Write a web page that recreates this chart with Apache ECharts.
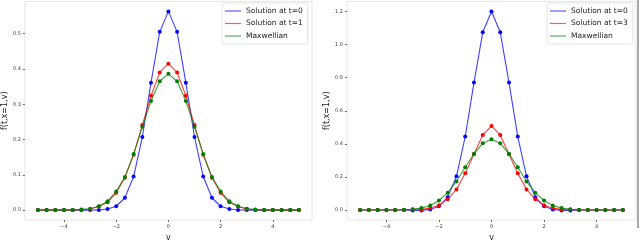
<!DOCTYPE html>
<html><head><meta charset="utf-8">
<script src="https://cdn.jsdelivr.net/npm/echarts@6/dist/echarts.min.js"></script>
<style>html,body{margin:0;padding:0;background:#fff}#c{width:640px;height:247px}</style>
</head><body><div id="c"></div>
<script>
const v = [-5,-4.667,-4.333,-4,-3.667,-3.333,-3,-2.667,-2.333,-2,-1.667,-1.333,-1,-0.667,-0.333,0,0.333,0.667,1,1.333,1.667,2,2.333,2.667,3,3.333,3.667,4,4.333,4.667,5];
// left panel (t=1)
const leftT0 = [0,0,0,0,0,0,0,0.0005,0.003,0.011,0.035,0.095,0.207,0.361,0.505,0.563,0.505,0.361,0.207,0.095,0.035,0.011,0.003,0.0005,0,0,0,0,0,0,0];
const leftT1 = [0,0,0,0,0,0.001,0.003,0.010,0.022,0.049,0.092,0.157,0.241,0.324,0.390,0.415,0.390,0.324,0.241,0.157,0.092,0.049,0.022,0.010,0.003,0.001,0,0,0,0,0];
const leftMax = [0,0,0,0,0,0.002,0.004,0.011,0.025,0.053,0.094,0.159,0.236,0.309,0.365,0.386,0.365,0.309,0.236,0.159,0.094,0.053,0.025,0.011,0.004,0.002,0,0,0,0,0];
// right panel (t=3)
const rightT0 = [0,0,0,0,0,0,-0.003,-0.002,0.004,0.023,0.078,0.204,0.444,0.770,1.074,1.200,1.074,0.770,0.444,0.204,0.078,0.023,0.004,-0.002,-0.003,0,0,0,0,0,0];
const rightT3 = [0,0,0,0,0,0.001,0.004,0.004,0.012,0.029,0.066,0.125,0.222,0.337,0.453,0.508,0.453,0.337,0.222,0.125,0.066,0.029,0.012,0.004,0.004,0.001,0,0,0,0,0];
const rightMax = [0,0,0,0,0,0.002,0.005,0.012,0.027,0.058,0.105,0.173,0.259,0.340,0.403,0.428,0.403,0.340,0.259,0.173,0.105,0.058,0.027,0.012,0.005,0.002,0,0,0,0,0];
const xTicks = [-4,-2,0,2,4];
const yTicksLeft = [0,0.1,0.2,0.3,0.4,0.5];
const yTicksRight = [0,0.2,0.4,0.6,0.8,1.0,1.2];
const namesLeft = ['Solution at t=0','Solution at t=1','Maxwellian'];
const namesRight = ['Solution at t=0','Solution at t=3','Maxwellian'];
const colors = ['#0000ff','#ff0000','#008000'];

const pair = (ys) => v.map((x,i)=>[x,ys[i]]);
const tickFmt = (val)=> (val<0?'\u2212':'') + Math.abs(val);
function xAx(gi){
  return {type:'value',gridIndex:gi,min:-5.5,max:5.5,name:'v',nameLocation:'middle',nameGap:14,
    nameTextStyle:{fontSize:8,color:'#222',fontFamily:'DejaVu Sans'},
    splitLine:{show:false},axisLine:{show:false,onZero:false},
    axisTick:{show:true,customValues:xTicks,length:2,lineStyle:{color:'#444',width:0.8}},
    axisLabel:{customValues:xTicks,fontSize:5,color:'#444',margin:4,formatter:tickFmt,fontFamily:'DejaVu Sans'}};
}
function yAx(gi,min,max,ticks){
  return {type:'value',gridIndex:gi,min:min,max:max,name:'f(t,x=1,v)',nameLocation:'middle',nameGap:14,
    nameTextStyle:{fontSize:8,color:'#222',fontFamily:'DejaVu Sans'},
    splitLine:{show:false},axisLine:{show:false,onZero:false},
    axisTick:{show:true,customValues:ticks,length:2,lineStyle:{color:'#444',width:0.8}},
    axisLabel:{customValues:ticks,fontSize:5,color:'#444',margin:4,formatter:(x)=>x.toFixed(1),fontFamily:'DejaVu Sans'}};
}
function ser(name,data,ci,gi){
  return {type:'line',name:name,xAxisIndex:gi,yAxisIndex:gi,data:pair(data),symbol:'circle',symbolSize:4,
    itemStyle:{color:colors[ci]},lineStyle:{color:colors[ci],width:1.1,opacity:0.75},z:2+ci,silent:true};
}
function leg(names,left){
  return {data:names.map((n,i)=>({name:n,itemStyle:{color:colors[i],opacity:0.65}})),left:left,top:3,orient:'vertical',
     icon:'rect',itemWidth:16,itemHeight:1.2,itemGap:4.5,padding:[4,5,4,3],
     backgroundColor:'#fff',borderColor:'#ddd',borderWidth:0.8,borderRadius:2,
     textStyle:{fontSize:7.5,color:'#222',fontFamily:'DejaVu Sans'}};
}
const chart = echarts.init(document.getElementById('c'),null,{renderer:'canvas'});
chart.setOption({
  animation:false,
  grid:[{left:22,top:1.5,width:290,height:225.5,show:true,borderColor:'#e6e6e6',borderWidth:1},
        {left:347,top:1.5,width:289,height:226,show:true,borderColor:'#e6e6e6',borderWidth:1}],
  xAxis:[xAx(0),xAx(1)],
  yAxis:[yAx(0,-0.028,0.591,yTicksLeft),yAx(1,-0.06,1.26,yTicksRight)],
  legend:[leg(namesLeft,222),leg(namesRight,547)],
  graphic:[{type:'line',shape:{x1:638,y1:0,x2:638,y2:228},style:{stroke:'#555',lineWidth:1},silent:true}],
  series:[
    ser(namesLeft[0],leftT0,0,0),ser(namesLeft[1],leftT1,1,0),ser(namesLeft[2],leftMax,2,0),
    ser(namesRight[0],rightT0,0,1),ser(namesRight[1],rightT3,1,1),ser(namesRight[2],rightMax,2,1)
  ]
});
</script></body></html>
